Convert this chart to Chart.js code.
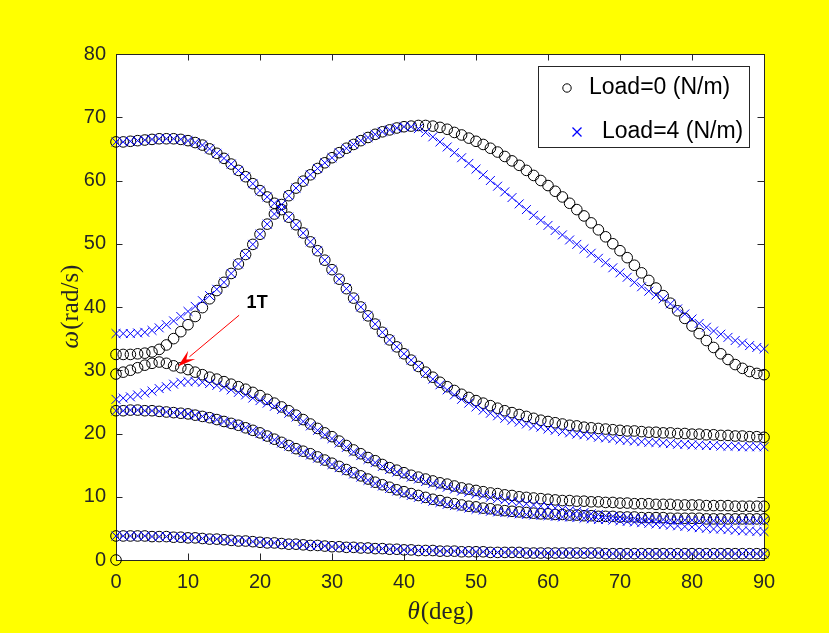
<!DOCTYPE html>
<html>
<head>
<meta charset="utf-8">
<script src="https://cdn.jsdelivr.net/npm/chart.js@4.4.1/dist/chart.umd.min.js"></script>
<style>
  html, body { margin: 0; padding: 0; background: #ffff00; }
  canvas { display: block; }
</style>
</head>
<body>
<canvas id="modeChart" width="829" height="633"></canvas>
<script>
// theta in degrees, one point per degree
const theta = [
  0, 1, 2, 3, 4, 5, 6, 7, 8, 9,
  10, 11, 12, 13, 14, 15, 16, 17, 18, 19,
  20, 21, 22, 23, 24, 25, 26, 27, 28, 29,
  30, 31, 32, 33, 34, 35, 36, 37, 38, 39,
  40, 41, 42, 43, 44, 45, 46, 47, 48, 49,
  50, 51, 52, 53, 54, 55, 56, 57, 58, 59,
  60, 61, 62, 63, 64, 65, 66, 67, 68, 69,
  70, 71, 72, 73, 74, 75, 76, 77, 78, 79,
  80, 81, 82, 83, 84, 85, 86, 87, 88, 89,
  90
];

const xTicks = [0, 10, 20, 30, 40, 50, 60, 70, 80, 90];
const yTicks = [0, 10, 20, 30, 40, 50, 60, 70, 80];

// Load = 0 (N/m), circles
const rigidMode0 = [0];   // single point at theta = 0
const mode1Load0 = [
  3.8, 3.8, 3.8, 3.8, 3.8, 3.7, 3.7, 3.7, 3.6, 3.6,
  3.5, 3.5, 3.4, 3.3, 3.3, 3.2, 3.1, 3.0, 3.0, 2.9,
  2.8, 2.7, 2.7, 2.6, 2.5, 2.5, 2.4, 2.3, 2.3, 2.2,
  2.1, 2.1, 2.0, 2.0, 1.9, 1.9, 1.8, 1.8, 1.7, 1.7,
  1.6, 1.6, 1.5, 1.5, 1.5, 1.4, 1.4, 1.4, 1.3, 1.3,
  1.3, 1.3, 1.2, 1.2, 1.2, 1.2, 1.2, 1.1, 1.1, 1.1,
  1.1, 1.1, 1.1, 1.1, 1.1, 1.1, 1.1, 1.1, 1.0, 1.0,
  1.0, 1.0, 1.0, 1.0, 1.0, 1.0, 1.0, 1.0, 1.0, 1.0,
  1.0, 1.0, 1.0, 1.0, 1.0, 1.0, 1.0, 1.0, 1.0, 1.0,
  1.0
];
const mode2Load0 = [
  23.6, 23.6, 23.7, 23.7, 23.6, 23.6, 23.5, 23.4, 23.3, 23.2,
  23.1, 22.9, 22.7, 22.5, 22.2, 21.9, 21.6, 21.3, 20.9, 20.5,
  20.1, 19.6, 19.1, 18.6, 18.1, 17.6, 17.2, 16.8, 16.3, 15.8,
  15.3, 14.8, 14.3, 13.8, 13.3, 12.8, 12.3, 11.9, 11.5, 11.1,
  10.8, 10.5, 10.2, 9.9, 9.6, 9.4, 9.1, 8.9, 8.7, 8.5,
  8.4, 8.2, 8.1, 7.9, 7.8, 7.7, 7.6, 7.5, 7.4, 7.3,
  7.3, 7.2, 7.2, 7.1, 7.1, 7.0, 7.0, 6.9, 6.9, 6.9,
  6.8, 6.8, 6.8, 6.7, 6.7, 6.7, 6.7, 6.6, 6.6, 6.6,
  6.6, 6.6, 6.5, 6.5, 6.5, 6.5, 6.5, 6.5, 6.5, 6.5,
  6.5
];
const mode3Load0 = [
  29.4, 29.7, 30.0, 30.4, 30.8, 31.1, 31.3, 31.1, 30.7, 30.4,
  30.1, 29.7, 29.3, 28.9, 28.6, 28.2, 27.8, 27.4, 27.0, 26.5,
  26.0, 25.4, 24.8, 24.2, 23.6, 22.9, 22.2, 21.5, 20.8, 20.1,
  19.5, 18.8, 18.1, 17.4, 16.8, 16.2, 15.7, 15.1, 14.6, 14.2,
  13.8, 13.4, 13.1, 12.8, 12.5, 12.2, 12.0, 11.7, 11.4, 11.2,
  11.0, 10.8, 10.6, 10.5, 10.3, 10.2, 10.0, 9.9, 9.8, 9.7,
  9.6, 9.5, 9.4, 9.4, 9.3, 9.3, 9.2, 9.2, 9.1, 9.1,
  9.0, 9.0, 8.9, 8.9, 8.9, 8.8, 8.8, 8.8, 8.7, 8.7,
  8.7, 8.7, 8.6, 8.6, 8.6, 8.6, 8.5, 8.5, 8.5, 8.5,
  8.5
];
const mode4Load0 = [
  32.5, 32.5, 32.5, 32.6, 32.7, 32.9, 33.3, 34.0, 35.0, 36.1,
  37.2, 38.5, 39.9, 41.3, 42.6, 43.9, 45.3, 46.8, 48.3, 49.9,
  51.5, 53.1, 54.7, 56.2, 57.6, 58.8, 59.9, 60.9, 61.9, 62.8,
  63.6, 64.4, 65.1, 65.7, 66.3, 66.8, 67.3, 67.7, 68.0, 68.3,
  68.5, 68.6, 68.7, 68.7, 68.6, 68.4, 68.1, 67.6, 67.2, 66.7,
  66.2, 65.7, 65.1, 64.5, 63.8, 63.1, 62.4, 61.6, 60.8, 60.0,
  59.2, 58.3, 57.4, 56.4, 55.4, 54.4, 53.3, 52.2, 51.1, 50.0,
  48.9, 47.8, 46.6, 45.4, 44.2, 43.0, 41.8, 40.6, 39.4, 38.2,
  37.0, 35.8, 34.7, 33.6, 32.6, 31.7, 30.9, 30.3, 29.8, 29.5,
  29.3
];
const mode5Load0 = [
  66.1, 66.1, 66.2, 66.3, 66.4, 66.5, 66.6, 66.6, 66.6, 66.5,
  66.3, 66.0, 65.6, 65.0, 64.3, 63.5, 62.6, 61.6, 60.6, 59.5,
  58.4, 57.4, 56.4, 55.4, 54.2, 53.0, 51.7, 50.3, 48.9, 47.4,
  45.9, 44.4, 42.9, 41.4, 40.0, 38.6, 37.3, 36.0, 34.8, 33.7,
  32.6, 31.6, 30.6, 29.7, 28.9, 28.1, 27.4, 26.8, 26.2, 25.7,
  25.2, 24.8, 24.4, 24.0, 23.6, 23.3, 23.0, 22.7, 22.4, 22.1,
  21.9, 21.7, 21.5, 21.3, 21.2, 21.0, 20.9, 20.8, 20.7, 20.6,
  20.5, 20.4, 20.4, 20.3, 20.2, 20.2, 20.1, 20.1, 20.0, 20.0,
  19.9, 19.9, 19.8, 19.8, 19.7, 19.7, 19.6, 19.6, 19.5, 19.5,
  19.4
];

// Load = 4 (N/m), crosses
const mode1Load4 = [
  3.8, 3.8, 3.8, 3.8, 3.8, 3.7, 3.7, 3.7, 3.6, 3.6,
  3.5, 3.5, 3.4, 3.3, 3.3, 3.2, 3.1, 3.0, 3.0, 2.9,
  2.8, 2.7, 2.7, 2.6, 2.5, 2.5, 2.4, 2.3, 2.3, 2.2,
  2.1, 2.1, 2.0, 2.0, 1.9, 1.9, 1.8, 1.8, 1.7, 1.7,
  1.6, 1.6, 1.5, 1.5, 1.5, 1.4, 1.4, 1.4, 1.3, 1.3,
  1.3, 1.3, 1.2, 1.2, 1.2, 1.2, 1.2, 1.1, 1.1, 1.1,
  1.1, 1.1, 1.1, 1.1, 1.1, 1.1, 1.1, 1.1, 1.0, 1.0,
  1.0, 1.0, 1.0, 1.0, 1.0, 1.0, 1.0, 1.0, 1.0, 1.0,
  1.0, 1.0, 1.0, 1.0, 1.0, 1.0, 1.0, 1.0, 1.0, 1.0,
  1.0
];
const mode2Load4 = [
  23.6, 23.6, 23.7, 23.7, 23.6, 23.6, 23.5, 23.4, 23.3, 23.2,
  23.1, 22.9, 22.7, 22.5, 22.2, 21.9, 21.6, 21.3, 20.9, 20.5,
  20.0, 19.5, 19.0, 18.5, 18.0, 17.5, 17.0, 16.6, 16.1, 15.6,
  15.1, 14.6, 14.1, 13.6, 13.1, 12.6, 12.1, 11.7, 11.3, 10.9,
  10.5, 10.2, 9.9, 9.6, 9.3, 9.1, 8.8, 8.6, 8.4, 8.2,
  8.0, 7.9, 7.7, 7.6, 7.5, 7.4, 7.3, 7.2, 7.1, 7.1,
  7.0, 6.9, 6.8, 6.8, 6.7, 6.6, 6.5, 6.4, 6.4, 6.3,
  6.2, 6.1, 6.0, 5.9, 5.8, 5.7, 5.6, 5.5, 5.4, 5.3,
  5.2, 5.1, 5.0, 4.9, 4.9, 4.8, 4.7, 4.6, 4.6, 4.5,
  4.5
];
const mode3Load4 = [
  25.4, 25.6, 25.8, 26.1, 26.4, 26.7, 27.1, 27.4, 27.8, 28.1,
  28.2, 28.2, 28.1, 27.9, 27.6, 27.3, 26.9, 26.5, 26.1, 25.6,
  25.2, 24.8, 24.3, 23.8, 23.2, 22.6, 21.9, 21.2, 20.5, 19.8,
  19.2, 18.5, 17.8, 17.1, 16.5, 15.9, 15.4, 14.8, 14.3, 13.9,
  13.5, 13.1, 12.8, 12.4, 12.1, 11.8, 11.5, 11.2, 10.9, 10.7,
  10.4, 10.2, 9.9, 9.7, 9.5, 9.3, 9.1, 8.9, 8.7, 8.5,
  8.4, 8.2, 8.0, 7.8, 7.7, 7.5, 7.3, 7.2, 7.0, 6.9,
  6.8, 6.7, 6.6, 6.5, 6.5, 6.4, 6.4, 6.3, 6.3, 6.3,
  6.3, 6.2, 6.2, 6.2, 6.2, 6.2, 6.2, 6.2, 6.2, 6.2,
  6.2
];
const mode4Load4 = [
  35.8, 35.8, 35.8, 35.9, 36.0, 36.3, 36.7, 37.2, 37.8, 38.5,
  39.3, 40.1, 41.0, 41.8, 42.8, 43.9, 45.3, 46.8, 48.3, 49.9,
  51.5, 53.1, 54.7, 56.2, 57.6, 58.8, 59.9, 60.9, 61.9, 62.8,
  63.6, 64.4, 65.1, 65.7, 66.3, 66.8, 67.3, 67.7, 68.0, 68.3,
  68.5, 68.5, 68.2, 67.6, 66.9, 66.1, 65.3, 64.4, 63.6, 62.7,
  61.8, 60.9, 60.0, 59.1, 58.2, 57.3, 56.3, 55.4, 54.5, 53.7,
  52.9, 52.1, 51.4, 50.6, 49.9, 49.2, 48.5, 47.7, 47.0, 46.2,
  45.4, 44.7, 43.9, 43.2, 42.5, 41.9, 41.3, 40.5, 39.7, 38.9,
  38.1, 37.4, 36.8, 36.2, 35.7, 35.2, 34.7, 34.3, 33.9, 33.6,
  33.4
];
const mode5Load4 = [
  66.1, 66.1, 66.2, 66.3, 66.4, 66.5, 66.6, 66.6, 66.6, 66.5,
  66.3, 66.0, 65.6, 65.0, 64.3, 63.5, 62.6, 61.6, 60.6, 59.5,
  58.4, 57.4, 56.4, 55.4, 54.2, 53.0, 51.7, 50.3, 48.9, 47.4,
  45.9, 44.4, 42.9, 41.4, 40.0, 38.6, 37.3, 36.0, 34.8, 33.7,
  32.6, 31.6, 30.6, 29.5, 28.6, 27.7, 26.9, 26.1, 25.4, 24.8,
  24.2, 23.7, 23.2, 22.8, 22.4, 22.1, 21.8, 21.5, 21.2, 21.0,
  20.7, 20.5, 20.3, 20.1, 19.9, 19.8, 19.6, 19.4, 19.3, 19.2,
  19.0, 18.9, 18.8, 18.7, 18.6, 18.6, 18.5, 18.4, 18.3, 18.3,
  18.2, 18.2, 18.1, 18.1, 18.0, 18.0, 18.0, 17.9, 17.9, 17.9,
  17.9
];

const legendLabels = ['Load=0 (N/m)', 'Load=4 (N/m)'];
const axisColor = '#262626';
const circleColor = '#000000';
const crossColor = '#0000ff';

// turn a value list into {x, y} points
function toPoints(values) {
  return values.map((v, i) => ({ x: theta[i], y: v }));
}

function circleSet(values) {
  return {
    data: toPoints(values),
    showLine: false,
    pointStyle: 'circle',
    pointRadius: 5.3,
    pointBorderWidth: 1,
    pointBorderColor: circleColor,
    pointBackgroundColor: 'rgba(0,0,0,0)',
    clip: false,
    order: 2,
  };
}

function crossSet(values) {
  return {
    data: toPoints(values),
    showLine: false,
    pointStyle: 'crossRot',
    pointRadius: 6.3,
    pointBorderWidth: 1,
    pointBorderColor: crossColor,
    pointBackgroundColor: crossColor,
    clip: false,
    order: 1,
  };
}

// yellow figure, white axes, box with inward ticks
const framePlugin = {
  id: 'frame',
  beforeDraw(chart) {
    const { ctx, chartArea: a } = chart;
    ctx.save();
    ctx.fillStyle = '#ffff00';
    ctx.fillRect(0, 0, chart.width, chart.height);
    ctx.fillStyle = '#ffffff';
    ctx.fillRect(a.left, a.top, a.right - a.left, a.bottom - a.top);
    ctx.restore();
  },
  beforeDatasetsDraw(chart) {
    const { ctx, chartArea: a, scales } = chart;
    const tl = 6.5;
    ctx.save();
    ctx.strokeStyle = axisColor;
    ctx.lineWidth = 1;
    ctx.strokeRect(a.left + 0.5, a.top + 0.5, a.right - a.left, a.bottom - a.top);
    ctx.beginPath();
    xTicks.forEach(v => {
      const px = Math.round(scales.x.getPixelForValue(v)) + 0.5;
      ctx.moveTo(px, a.bottom);
      ctx.lineTo(px, a.bottom - tl);
      ctx.moveTo(px, a.top);
      ctx.lineTo(px, a.top + tl);
    });
    yTicks.forEach(v => {
      const py = Math.round(scales.y.getPixelForValue(v)) + 0.5;
      ctx.moveTo(a.left, py);
      ctx.lineTo(a.left + tl, py);
      ctx.moveTo(a.right, py);
      ctx.lineTo(a.right - tl, py);
    });
    ctx.stroke();
    ctx.restore();
  },
  afterDatasetsDraw(chart) {
    const { ctx, scales } = chart;
    ctx.save();

    // "1T" arrow
    const x0 = scales.x.getPixelForValue(17.1), y0 = scales.y.getPixelForValue(38.7);
    const x1 = scales.x.getPixelForValue(8.6), y1 = scales.y.getPixelForValue(30.6);
    const ang = Math.atan2(y1 - y0, x1 - x0);
    const headLen = 15, headW = 5.5;
    const bx = x1 - Math.cos(ang) * headLen, by = y1 - Math.sin(ang) * headLen;
    ctx.strokeStyle = '#ff0000';
    ctx.fillStyle = '#ff0000';
    ctx.lineWidth = 1;
    ctx.beginPath();
    ctx.moveTo(x0, y0);
    ctx.lineTo(bx, by);
    ctx.stroke();
    ctx.beginPath();
    ctx.moveTo(x1, y1);
    ctx.lineTo(bx - Math.sin(ang) * headW - Math.cos(ang) * 3, by + Math.cos(ang) * headW - Math.sin(ang) * 3);
    ctx.lineTo(x1 - Math.cos(ang) * (headLen - 4), y1 - Math.sin(ang) * (headLen - 4));
    ctx.lineTo(bx + Math.sin(ang) * headW - Math.cos(ang) * 3, by - Math.cos(ang) * headW - Math.sin(ang) * 3);
    ctx.closePath();
    ctx.fill();

    ctx.fillStyle = '#000000';
    ctx.font = 'bold 18px "Liberation Sans", Arial, sans-serif';
    ctx.textAlign = 'center';
    ctx.textBaseline = 'middle';
    ctx.fillText('1T', scales.x.getPixelForValue(19.6), scales.y.getPixelForValue(40.6));

    // legend box
    ctx.fillStyle = '#ffffff';
    ctx.fillRect(538, 66, 211, 81);
    ctx.strokeStyle = axisColor;
    ctx.strokeRect(538.5, 66.5, 211, 81);

    ctx.lineWidth = 1;
    ctx.strokeStyle = circleColor;
    ctx.beginPath();
    ctx.arc(567, 88, 4.2, 0, Math.PI * 2);
    ctx.stroke();

    ctx.lineWidth = 1.3;
    ctx.strokeStyle = crossColor;
    ctx.beginPath();
    ctx.moveTo(572.5, 127.5); ctx.lineTo(581.5, 136.5);
    ctx.moveTo(581.5, 127.5); ctx.lineTo(572.5, 136.5);
    ctx.stroke();

    ctx.fillStyle = '#000000';
    ctx.font = '23px "Liberation Sans", Arial, sans-serif';
    ctx.textAlign = 'left';
    ctx.textBaseline = 'middle';
    ctx.fillText(legendLabels[0], 589, 88);
    ctx.fillText(legendLabels[1], 602, 132);
    ctx.restore();
  },
  afterDraw(chart) {
    const { ctx, chartArea: a } = chart;
    ctx.save();
    ctx.fillStyle = axisColor;
    ctx.textBaseline = 'middle';
    ctx.textAlign = 'left';
    const italic = 'italic 25px "Liberation Serif", "Times New Roman", serif';
    const roman = '25px "Liberation Serif", "Times New Roman", serif';

    // x title: theta(deg)
    ctx.font = italic;
    const wt = ctx.measureText('\u03b8').width;
    ctx.font = roman;
    const wd = ctx.measureText('(deg)').width;
    let sx = (a.left + a.right) / 2 - (wt + wd) / 2;
    ctx.font = italic;
    ctx.fillText('\u03b8', sx, 612);
    ctx.font = roman;
    ctx.fillText('(deg)', sx + wt + 1, 612);

    // y title: omega(rad/s)
    ctx.translate(71, (a.top + a.bottom) / 2);
    ctx.rotate(-Math.PI / 2);
    ctx.font = italic;
    const wo = ctx.measureText('\u03c9').width;
    ctx.font = roman;
    const wr = ctx.measureText('(rad/s)').width;
    sx = -(wo + wr) / 2;
    ctx.font = italic;
    ctx.fillText('\u03c9', sx, 0);
    ctx.font = roman;
    ctx.fillText('(rad/s)', sx + wo + 1, 0);
    ctx.restore();
  }
};

const tickFont = { family: '"Liberation Sans", Arial, Helvetica, sans-serif', size: 20 };

new Chart(document.getElementById('modeChart'), {
  type: 'scatter',
  data: {
    datasets: [
      circleSet(rigidMode0),
      circleSet(mode1Load0),
      circleSet(mode2Load0),
      circleSet(mode3Load0),
      circleSet(mode4Load0),
      circleSet(mode5Load0),
      crossSet(mode1Load4),
      crossSet(mode2Load4),
      crossSet(mode3Load4),
      crossSet(mode4Load4),
      crossSet(mode5Load4),
    ],
  },
  options: {
    responsive: false,
    animation: false,
    events: [],
    layout: { padding: { left: 0, right: 65, top: 54, bottom: 0 } },
    plugins: {
      legend: { display: false },
      tooltip: { enabled: false },
    },
    scales: {
      x: {
        type: 'linear',
        min: 0,
        max: 90,
        grid: { display: false, drawTicks: false },
        border: { display: false },
        afterFit: s => { s.height = 73; },
        afterBuildTicks: s => { s.ticks = xTicks.map(v => ({ value: v })); },
        ticks: { color: axisColor, font: tickFont, padding: 10, maxRotation: 0 },
      },
      y: {
        type: 'linear',
        min: 0,
        max: 80,
        grid: { display: false, drawTicks: false },
        border: { display: false },
        afterFit: s => { s.width = 116; },
        afterBuildTicks: s => { s.ticks = yTicks.map(v => ({ value: v })); },
        ticks: { color: axisColor, font: tickFont, padding: 10 },
      },
    },
  },
  plugins: [framePlugin],
});
</script>
</body>
</html>
